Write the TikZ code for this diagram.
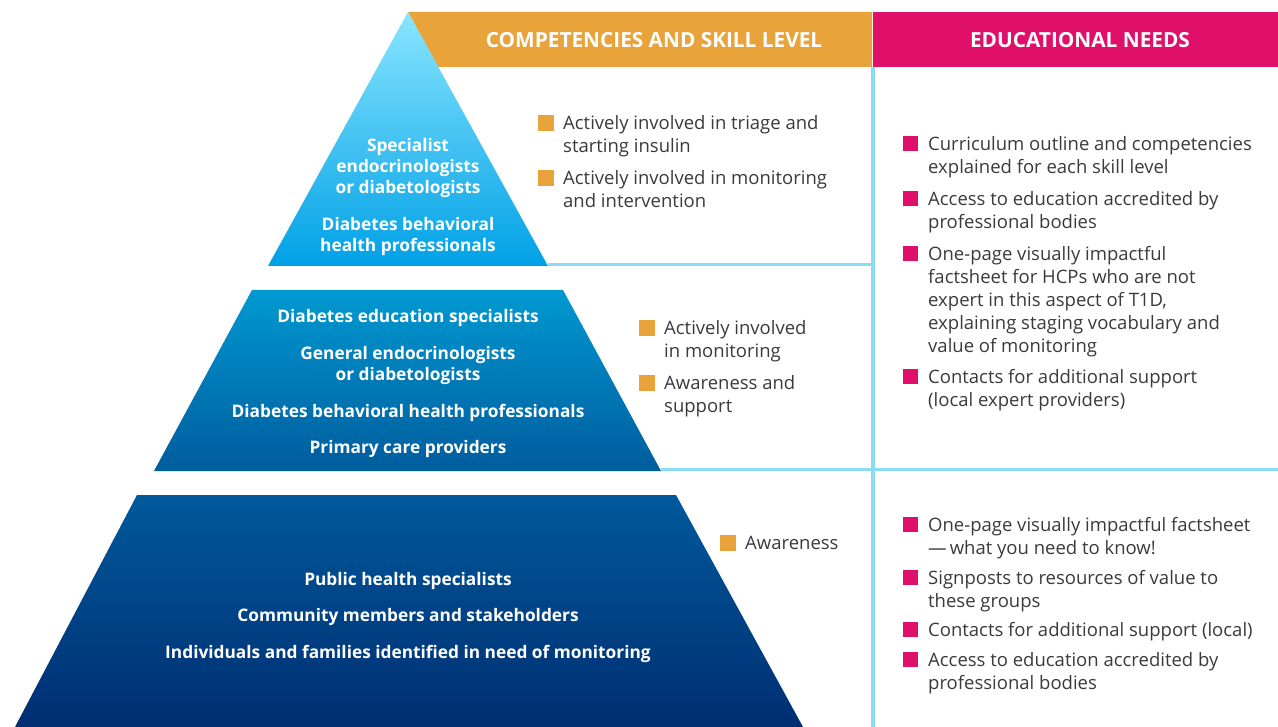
\documentclass[tikz,border=0pt]{standalone}
\usepackage{fontspec}
\setmainfont{Open Sans}
\usetikzlibrary{positioning}
\definecolor{skillorange}{HTML}{E8A33B}
\definecolor{needsmagenta}{HTML}{E0106A}
\definecolor{gridblue}{HTML}{8ADCF6}
\definecolor{bodygray}{HTML}{3A3A3A}
\tikzset{
	headlabel/.style={text=white, font=\bfseries\fontsize{20.8}{22}\selectfont},
	tierlabel/.style={text=white, font=\bfseries\fontsize{17.3}{21}\selectfont, align=center, inner sep=0pt},
	bullettext/.style={text=bodygray, font=\fontsize{18.5}{23}\selectfont, align=left, anchor=north west, inner sep=0pt},
	skillbox/.style={fill=skillorange, minimum size=16pt, inner sep=0pt, anchor=north east},
	needbox/.style={fill=needsmagenta, minimum size=15pt, inner sep=0pt, anchor=north east},
	gridline/.style={draw=gridblue, line width=3.5pt}
}

\begin{document}
\begin{tikzpicture}[x=1pt, y=-1pt]
			%%%%% START %%%%%
			\useasboundingbox (0, 0) rectangle (1278, 727);
			
			% corners of the pyramid tiers
			\coordinate (apex) at (408, 12);
			\coordinate (topL) at (268, 266);
			\coordinate (topR) at (548, 266);
			\coordinate (midTL) at (252, 290);
			\coordinate (midTR) at (563, 290);
			\coordinate (midBL) at (154, 471);
			\coordinate (midBR) at (661, 471);
			\coordinate (lowTL) at (137, 495);
			\coordinate (lowTR) at (676, 495);
			\coordinate (lowBL) at (15, 727);
			\coordinate (lowBR) at (803, 727);
			
			% grid lines
			\coordinate (gridtop) at (873, 67);
			\coordinate (gridbot) at (873, 727);
			\coordinate (gridA) at (873, 264.5);
			\coordinate (gridB) at (1278, 469.5);
			\draw[gridline] (gridtop) -- (gridbot);
			\draw[gridline] (topR |- gridA) -- (gridA);
			\draw[gridline] (midBR |- gridB) -- (gridB);
			
			% headers
			\fill[skillorange] (apex) -- (872, 12) -- (872, 67) -- (438.3, 67) -- cycle;
			\fill[needsmagenta] (873, 12) rectangle (1278, 67);
			\node[headlabel] (skillhead) at (654, 40) {COMPETENCIES AND SKILL LEVEL};
			\node[headlabel] (needshead) at (1080, 40) {EDUCATIONAL NEEDS};
			
			% pyramid
			\shade[top color=cyan!40!white!90!blue, middle color=cyan!90!blue!80, bottom color=cyan!70!blue!90!black]
				(apex) -- (topR) -- (topL) -- cycle;
			\shade[top color={rgb,255:red,0;green,153;blue,209}, bottom color={rgb,255:red,0;green,92;blue,157}]
				(midTL) -- (midTR) -- (midBR) -- (midBL) -- cycle;
			\shade[top color={rgb,255:red,0;green,89;blue,155}, bottom color={rgb,255:red,0;green,46;blue,114}]
				(lowTL) -- (lowTR) -- (lowBR) -- (lowBL) -- cycle;
			
			\node[tierlabel] (spec) at (408, 168.5) {Specialist\\endocrinologists\\or diabetologists};
			\node[tierlabel] (behavA) at (408, 237) {Diabetes behavioral\\health professionals};
			
			\node[tierlabel] (educ) at (408, 318.5) {Diabetes education specialists};
			\node[tierlabel] (general) at (408, 366) {General endocrinologists\\or diabetologists};
			\node[tierlabel] (behavB) at (408, 412.5) {Diabetes behavioral health professionals};
			\node[tierlabel] (primary) at (408, 449.5) {Primary care providers};
			
			\node[tierlabel] (public) at (408, 581.5) {Public health specialists};
			\node[tierlabel] (community) at (408, 617.5) {Community members and stakeholders};
			\node[tierlabel] (families) at (408, 653.5) {Individuals and families identified in need of monitoring};
			
			% competencies
			\node[bullettext] (compA) at (563, 113) {\strut Actively involved in triage and\\starting insulin};
			\node[bullettext] (compB) at (563, 168) {\strut Actively involved in monitoring\\and intervention};
			\node[bullettext] (compC) at (664, 318) {\strut Actively involved\\in monitoring};
			\node[bullettext] (compD) at (664, 373) {\strut Awareness and\\support};
			\node[bullettext] (compE) at (745, 533) {\strut Awareness};
			\foreach \c in {compA, compB, compC, compD, compE}
				\node[skillbox] (\c box) at ([xshift=-9pt, yshift=-2pt]\c.north west) {};
			
			% educational needs
			\node[bullettext] (needA) at (928, 134) {\strut Curriculum outline and competencies\\explained for each skill level};
			\node[bullettext] (needB) at (928, 189) {\strut Access to education accredited by\\professional bodies};
			\node[bullettext] (needC) at (928, 244) {\strut One-page visually impactful\\factsheet for HCPs who are not\\expert in this aspect of T1D,\\explaining staging vocabulary and\\value of monitoring};
			\node[bullettext] (needD) at (928, 367) {\strut Contacts for additional support\\(local expert providers)};
			\node[bullettext] (needE) at (928, 515) {\strut One-page visually impactful factsheet\\---\,what you need to know!};
			\node[bullettext] (needF) at (928, 568) {\strut Signposts to resources of value to\\these groups};
			\node[bullettext] (needG) at (928, 620) {\strut Contacts for additional support (local)};
			\node[bullettext] (needH) at (928, 650) {\strut Access to education accredited by\\professional bodies};
			\foreach \n in {needA, needB, needC, needD, needE, needF, needG, needH}
				\node[needbox] (\n box) at ([xshift=-10pt, yshift=-2pt]\n.north west) {};
			
			%%%%% END %%%%%
		\end{tikzpicture}
\end{document}
